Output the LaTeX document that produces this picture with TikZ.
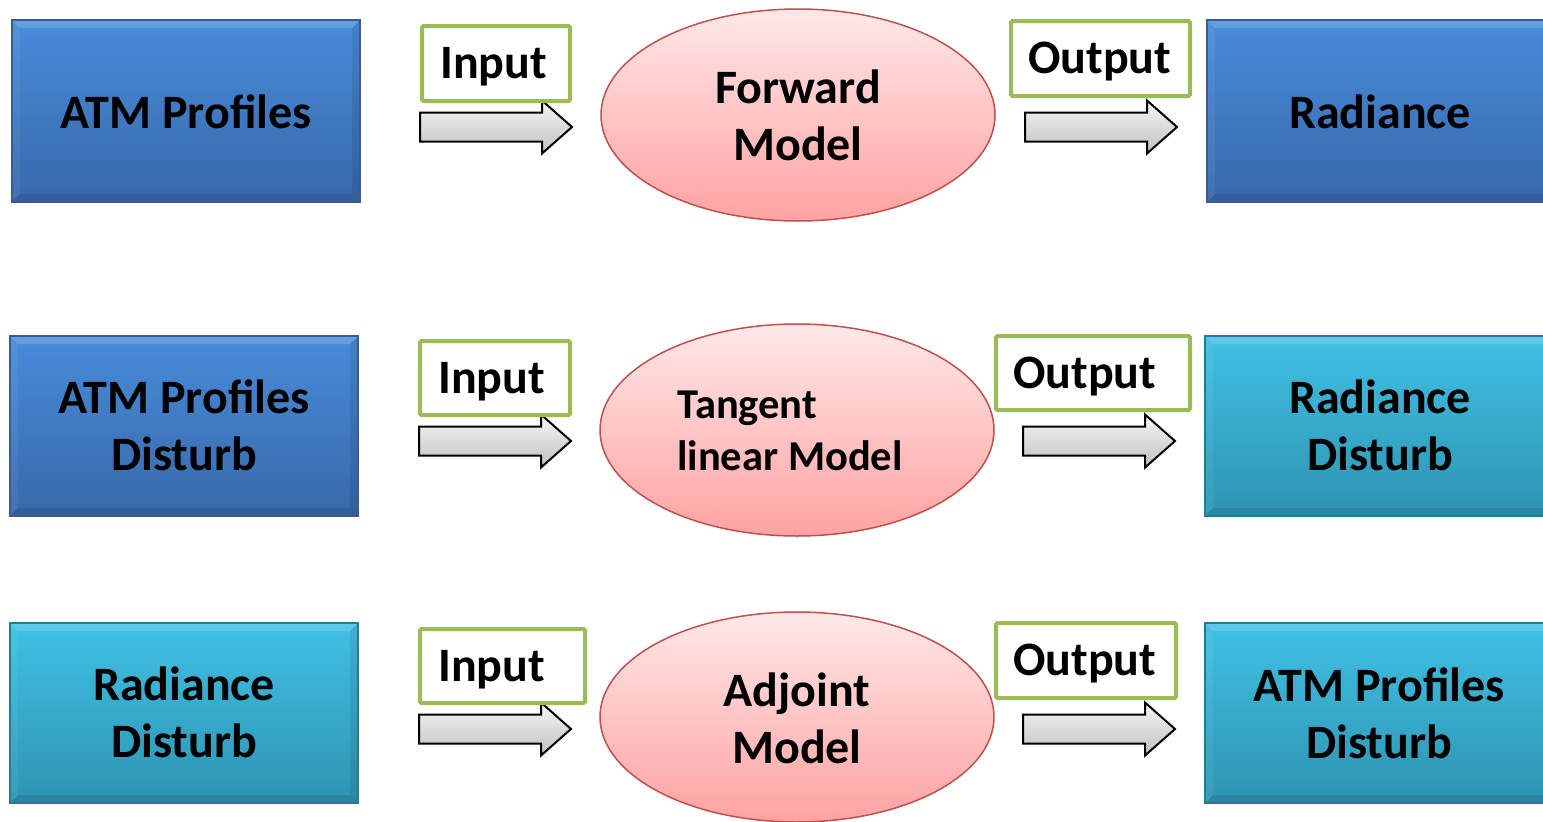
\documentclass[tikz,border=0pt]{standalone}
\usepackage{fontspec}
\setmainfont{Carlito}
\usetikzlibrary{shapes.geometric}
\definecolor{bluetop}{RGB}{72,140,218}
\definecolor{bluebot}{RGB}{56,104,170}
\definecolor{blueedge}{RGB}{58,92,145}
\definecolor{cyantop}{RGB}{64,192,228}
\definecolor{cyanbot}{RGB}{46,148,178}
\definecolor{cyanedge}{RGB}{40,120,150}
\definecolor{elltop}{RGB}{255,232,232}
\definecolor{ellbot}{RGB}{255,162,162}
\definecolor{elledge}{RGB}{192,80,77}
\definecolor{lblgreen}{RGB}{155,187,89}
\definecolor{arrtop}{RGB}{246,246,246}
\definecolor{arrbot}{RGB}{192,192,192}
\begin{document}
\begin{tikzpicture}[x=1pt,y=-1pt,
  bigtxt/.style={font=\bfseries\fontsize{48}{57}\selectfont, inner sep=0pt, align=center, anchor=base},
  midtxt/.style={font=\bfseries\fontsize{42.5}{52}\selectfont, inner sep=0pt, align=left, anchor=base west},
  lbltxt/.style={font=\bfseries\fontsize{48}{57}\selectfont, inner sep=0pt, anchor=base west},
  bevel/.style={path picture={
     \fill[white, opacity=0.16] (path picture bounding box.north west) -- (path picture bounding box.north east)
        -- ([xshift=-8pt,yshift=-8pt]path picture bounding box.north east) -- ([xshift=8pt,yshift=-8pt]path picture bounding box.north west) -- cycle;
     \fill[white, opacity=0.06] (path picture bounding box.north west) -- ([xshift=8pt,yshift=-8pt]path picture bounding box.north west)
        -- ([xshift=8pt,yshift=8pt]path picture bounding box.south west) -- (path picture bounding box.south west) -- cycle;
     \fill[black, opacity=0.08] (path picture bounding box.north east) -- ([xshift=-8pt,yshift=-8pt]path picture bounding box.north east)
        -- ([xshift=-8pt,yshift=8pt]path picture bounding box.south east) -- (path picture bounding box.south east) -- cycle;
     \fill[black, opacity=0.10] (path picture bounding box.south west) -- (path picture bounding box.south east)
        -- ([xshift=-8pt,yshift=8pt]path picture bounding box.south east) -- ([xshift=8pt,yshift=8pt]path picture bounding box.south west) -- cycle;}},
  boxblue/.style={draw=blueedge, line width=1.2pt, top color=bluetop, bottom color=bluebot, inner sep=0pt, bevel},
  boxcyan/.style={draw=cyanedge, line width=1.2pt, top color=cyantop, bottom color=cyanbot, inner sep=0pt, bevel},
  model/.style={ellipse, draw=elledge, line width=1.5pt, top color=elltop, bottom color=ellbot, inner sep=0pt, minimum width=394pt, minimum height=212pt},
  lbl/.style={draw=lblgreen, fill=white, line width=4pt, rounded corners=1.5pt, inner sep=0pt},
  barrow/.pic={\shade[top color=arrtop, bottom color=arrbot, draw=black, line width=2pt, line join=miter]
     (0,-14.5) -- (122,-14.5) -- (122,-26.5) -- (152,0) -- (122,26.5) -- (122,14.5) -- (0,14.5) -- cycle;}
]
\clip (0,0) rectangle (1543,822);
\fill[white] (0,0) rectangle (1543,822);

% ---------- row 1 ----------
\node[boxblue, minimum width=348pt, minimum height=182pt] (atm1) at (186,111) {};
\node[boxblue, minimum width=350pt, minimum height=182pt] (rad1) at (1382,111) {};
\node[model] (fwd) at (798,115) {};
\pic at (420,127) {barrow};
\pic at (1025,127) {barrow};
\node[lbl, minimum width=148pt, minimum height=75pt] (in1) at (496,63.5) {};
\node[lbl, minimum width=179pt, minimum height=75pt] (out1) at (1100.5,58.5) {};
\node[bigtxt] (atm1t) at (186,128) {ATM Profiles};
\node[bigtxt] (rad1t) at (1380,128) {Radiance};
\node[bigtxt] (fwdt) at (798,160) {Forward\\Model};
\node[lbltxt] (in1t) at (440,78) {Input};
\node[lbltxt] (out1t) at (1028,73.5) {Output};

% ---------- row 2 ----------
\node[boxblue, minimum width=348pt, minimum height=180pt] (atm2) at (184,426) {};
\node[boxcyan, minimum width=350pt, minimum height=180pt] (rad2) at (1380,426) {};
\node[model] (tlm) at (797,430) {};
\pic at (419,441) {barrow};
\pic at (1023,441) {barrow};
\node[lbl, minimum width=150pt, minimum height=74pt] (in2) at (495,378) {};
\node[lbl, minimum width=194pt, minimum height=74pt] (out2) at (1093,373) {};
\node[bigtxt] (atm2t) at (184,470) {ATM Profiles\\Disturb};
\node[bigtxt] (rad2t) at (1380,470) {Radiance\\Disturb};
\node[midtxt] (tlmt) at (677,470) {Tangent\\linear Model};
\node[lbltxt] (in2t) at (438,393) {Input};
\node[lbltxt] (out2t) at (1013,388) {Output};

% ---------- row 3 ----------
\node[boxcyan, minimum width=348pt, minimum height=180pt] (rad3) at (184,713) {};
\node[boxcyan, minimum width=350pt, minimum height=180pt] (atm3) at (1380,713) {};
\node[model, minimum height=210pt] (adj) at (797,717) {};
\pic at (419,729) {barrow};
\pic at (1023,729) {barrow};
\node[lbl, minimum width=165pt, minimum height=74pt] (in3) at (502.5,666) {};
\node[lbl, minimum width=180pt, minimum height=75pt] (out3) at (1086,660.5) {};
\node[bigtxt] (rad3t) at (184,757) {Radiance\\Disturb};
\node[bigtxt] (atm3t) at (1379,758) {ATM Profiles\\Disturb};
\node[bigtxt] (adjt) at (797,763) {Adjoint\\Model};
\node[lbltxt] (in3t) at (438,681) {Input};
\node[lbltxt] (out3t) at (1013,675.5) {Output};
\end{tikzpicture}
\end{document}
